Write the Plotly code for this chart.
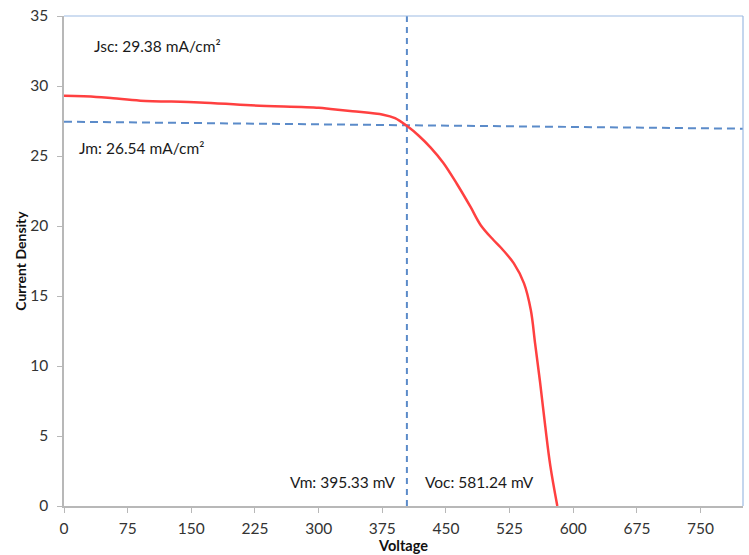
import plotly.graph_objects as go

# J-V curve of the cell (voltage in mV, current density in mA/cm²)
voltage = [0, 38, 58, 90, 160, 220, 300, 314, 340, 376, 390, 405, 418, 432, 447, 463,
           479, 491, 506, 514, 530, 542, 550, 555, 561, 567, 573, 581.24]
current = [29.3, 29.22, 29.12, 28.95, 28.83, 28.62, 28.45, 28.36, 28.2, 27.95, 27.7,
           27.1, 26.45, 25.6, 24.5, 23.0, 21.36, 20.06, 19.0, 18.5, 17.33, 15.9, 14.0,
           11.64, 8.8, 5.7, 2.87, 0.0]

# Guide lines through the maximum power point
vm_guide_x = [404, 404]
vm_guide_y = [0, 35]
jm_guide_x = [0, 800]
jm_guide_y = [27.45, 26.95]

x_ticks = [0, 75, 150, 225, 300, 375, 450, 525, 600, 675, 750]
y_ticks = [0, 5, 10, 15, 20, 25, 30, 35]

labels = [
    ("Jsc: 29.38 mA/cm²", 33, 32.85, "left"),
    ("Jm: 26.54 mA/cm²", 15, 25.6, "left"),
    ("Vm: 395.33 mV", 393, 1.7, "right"),
    ("Voc: 581.24 mV", 423, 1.7, "left"),
]

FONT = "Lato, 'Open Sans', sans-serif"
GUIDE = "#5b8bc9"

fig = go.Figure()
fig.add_trace(go.Scatter(x=vm_guide_x, y=vm_guide_y, mode="lines",
                         line=dict(color=GUIDE, width=2, dash="6px,5px"),
                         hoverinfo="skip", showlegend=False))
fig.add_trace(go.Scatter(x=jm_guide_x, y=jm_guide_y, mode="lines",
                         line=dict(color=GUIDE, width=2, dash="8px,5px"),
                         hoverinfo="skip", showlegend=False))
fig.add_trace(go.Scatter(x=voltage, y=current, mode="lines",
                         line=dict(color="#ff4040", width=2.5, shape="spline", smoothing=1.0),
                         showlegend=False))

for text, x, y, anchor in labels:
    fig.add_annotation(x=x, y=y, xref="x", yref="y", text=text, showarrow=False,
                       xanchor=anchor, yanchor="middle",
                       font=dict(family=FONT, size=15.5, color="#1a1a1a"))

# light blue frame on the top and right edges of the plot area
fig.add_shape(type="line", xref="paper", yref="paper", x0=0, x1=1, y0=1, y1=1,
              line=dict(color="#9dbbe3", width=1.2))
fig.add_shape(type="line", xref="paper", yref="paper", x0=1, x1=1, y0=0, y1=1,
              line=dict(color="#9dbbe3", width=1.2))

axis_common = dict(showgrid=False, zeroline=False, showline=True, linecolor="#b8b8b8",
                   linewidth=1.5, ticks="outside", ticklen=5, tickcolor="#b8b8b8",
                   tickfont=dict(family=FONT, size=15.5, color="#333333"))

fig.update_xaxes(range=[0, 800], tickvals=x_ticks, ticklabelstandoff=3,
                 title=dict(text="<b>Voltage</b>", font=dict(family=FONT, size=14.5, color="#111"),
                            standoff=2),
                 **axis_common)
fig.update_yaxes(range=[0, 35], tickvals=y_ticks, ticklabelstandoff=6,
                 title=dict(text="<b>Current Density</b>", font=dict(family=FONT, size=14, color="#111"),
                            standoff=0),
                 **axis_common)

fig.update_layout(width=749, height=555, margin=dict(l=64, r=6, t=15, b=48),
                  plot_bgcolor="white", paper_bgcolor="white")

fig.write_html("out.html")
